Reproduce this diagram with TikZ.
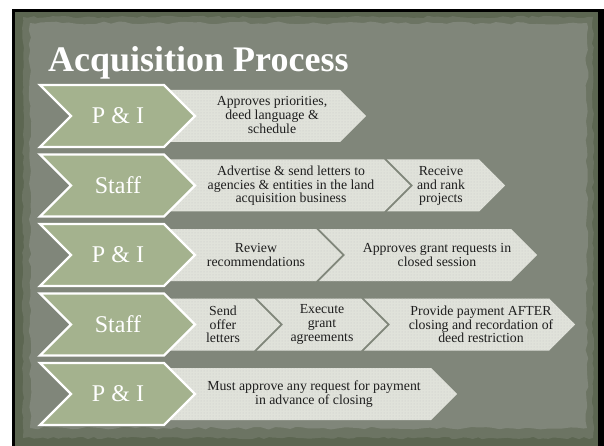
\documentclass[tikz,border=0pt]{standalone}
\usepackage{fontspec}
\setmainfont{Liberation Serif}
\usetikzlibrary{patterns, decorations.pathmorphing}

\definecolor{slate}{HTML}{80867A}
\definecolor{moss}{HTML}{5C6651}
\definecolor{sage}{HTML}{A4B28E}
\definecolor{paper}{HTML}{E0E2DA}
\definecolor{ink}{HTML}{1E1E1E}

% style, left x, tip x, middle y, half height
\newcommand{\chevron}[5]{%
\path[#1] (#2,#4-#5) -- (#3-#5,#4-#5) -- (#3,#4) -- (#3-#5,#4+#5)
  -- (#2,#4+#5) -- (#2+#5,#4) -- cycle;
}

\tikzset{
x=1pt, y=-1pt, % one unit is one pixel of the slide, y runs downwards
actor chevron/.style={fill=sage, draw=white, line width=2.4pt}, % who does it
task chevron/.style={fill=paper, postaction={pattern=dots, pattern color=black!22}}, % what is done
actor/.style={text=white, font=\fontsize{24}{24}\selectfont},
task/.style={text=ink, align=center, inner sep=0pt, font=\fontsize{13.8}{13.6}\selectfont},
}

\begin{document}
\begin{tikzpicture}
\useasboundingbox (0,0) rectangle (604,446);
\clip (0,0) rectangle (604,446);

% slide background
\fill[white] (0,0) rectangle (604,446);
\fill[black] (12,9) rectangle (620,460);
\fill[moss] (15,12) rectangle (598,460);
\fill[moss!55!slate, decorate, decoration={random steps, segment length=5pt, amplitude=1.2pt}] (23,17) rectangle (593,438);
\fill[slate, decorate, decoration={random steps, segment length=7pt, amplitude=1.5pt}] (30,23) rectangle (587,428);

\node[anchor=base west, inner sep=0pt, text=white, font=\bfseries\fontsize{36}{36}\selectfont] (title) at (48,72) {Acquisition Process};

% task chevrons
\chevron{task chevron}{150}{366}{116}{26}
\chevron{task chevron}{150}{410}{185.5}{26}
\chevron{task chevron}{387}{505}{185.5}{26}
\chevron{task chevron}{150}{342}{255}{26}
\chevron{task chevron}{319}{537}{255}{26}
\chevron{task chevron}{150}{280}{324.5}{26}
\chevron{task chevron}{257}{387}{324.5}{26}
\chevron{task chevron}{364}{575}{324.5}{26}
\chevron{task chevron}{150}{457}{394}{26}

% actor chevrons
\chevron{actor chevron}{40}{195}{116}{31}
\chevron{actor chevron}{40}{195}{185.5}{31}
\chevron{actor chevron}{40}{195}{255}{31}
\chevron{actor chevron}{40}{195}{324.5}{31}
\chevron{actor chevron}{40}{195}{394}{31}

\node[actor] (pi1) at (118,116) {P \& I};
\node[actor] (staff1) at (118,185.5) {Staff};
\node[actor] (pi2) at (118,255) {P \& I};
\node[actor] (staff2) at (118,324.5) {Staff};
\node[actor] (pi3) at (118,394) {P \& I};

\node[task] (priorities) at (272,115) {Approves priorities,\\deed language \&\\schedule};
\node[task] (advertise) at (291,186) {Advertise \& send letters to\\agencies \& entities in the land\\acquisition business};
\node[task] (rank) at (441,186) {Receive\\and rank\\projects};
\node[task] (review) at (256,255) {Review\\recommendations};
\node[task] (grant) at (437,255) {Approves grant requests in\\closed session};
\node[task] (offer) at (223,324.5) {Send\\offer\\letters};
\node[task] (execute) at (322,324.5) {Execute\\grant\\agreements};
\node[task] (payment) at (481,324.5) {Provide payment AFTER\\closing and recordation of\\deed restriction};
\node[task] (advance) at (314,394) {Must approve any request for payment\\in advance of closing};
\end{tikzpicture}
\end{document}
